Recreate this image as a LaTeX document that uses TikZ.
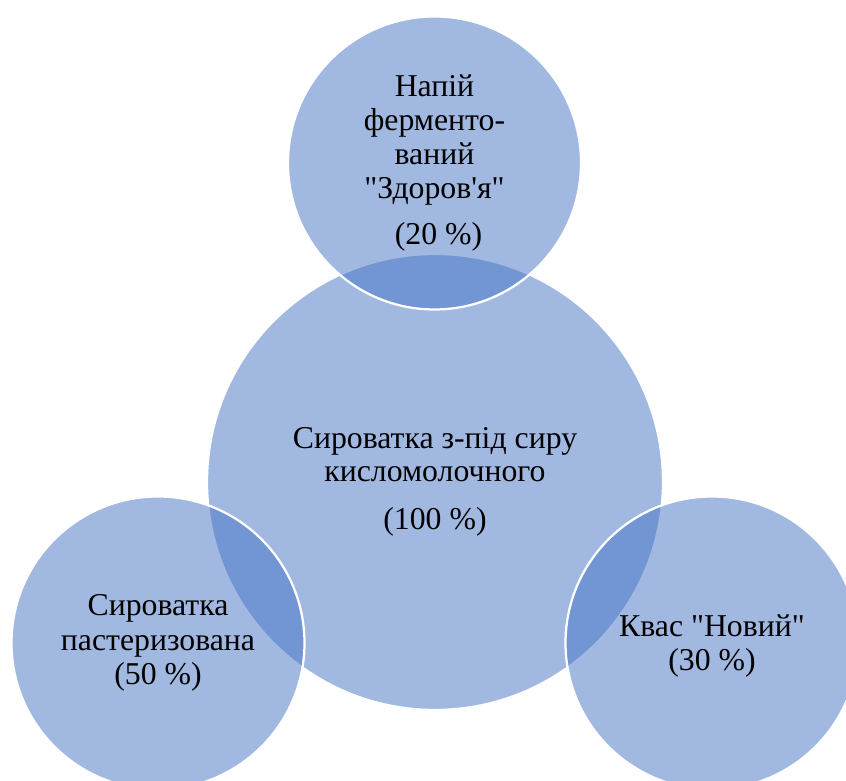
\documentclass[tikz,border=0pt]{standalone}
\usepackage{fontspec}
\newfontfamily\bubblefont{Liberation Serif}
\definecolor{bubbleblue}{RGB}{68,114,196}
\begin{document}
\begin{tikzpicture}[font=\bubblefont\fontsize{22.6}{24.3}\selectfont,
  bubble/.style={circle, inner sep=0pt, align=center, fill=bubbleblue,
    fill opacity=0.5, text opacity=1, draw=white, line width=1.6pt}]
\useasboundingbox (0,0) rectangle (21.15,19.525);

\node[bubble, minimum size=11.4cm] (whey) at (10.875,7.475)
  {Сироватка з-під сиру\\[-0.05cm]кисломолочного\\[0.35cm](100~\%)};

\node[bubble, minimum size=7.325cm] (drink) at (10.8625,15.45)
  {Напій\\ферменто-\\ваний\\"Здоров'я"\\[0.3cm]\hspace*{0.2cm}(20~\%)};

\node[bubble, minimum size=7.325cm] (past) at (3.95,3.45)
  {Сироватка\\пастеризована\\(50~\%)};

\node[bubble, minimum size=7.325cm] (kvass) at (17.8,3.45)
  {\\[-0.15cm]Квас "Новий"\\(30~\%)};
\end{tikzpicture}
\end{document}
